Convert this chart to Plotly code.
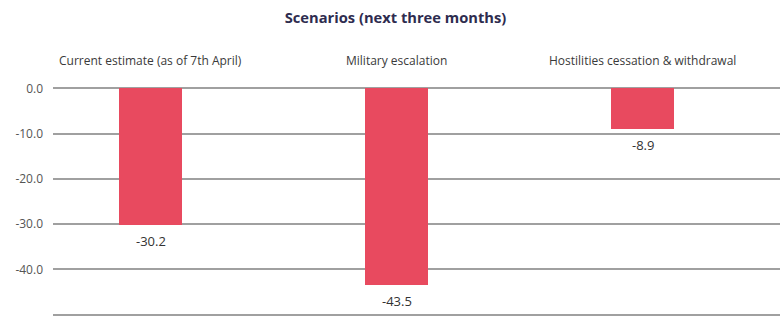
import plotly.graph_objects as go

categories = ["Current estimate (as of 7th April)", "Military escalation", "Hostilities cessation & withdrawal"]
values = [-30.2, -43.5, -8.9]
tick_vals = [0, -10, -20, -30, -40, -50]
tick_text = ["0.0", "-10.0", "-20.0", "-30.0", "-40.0", "-50.0"]
title = "Scenarios (next three months)"

FONT = "Open Sans, Noto Sans, sans-serif"

fig = go.Figure()
fig.add_trace(go.Bar(
    x=categories, y=values,
    marker=dict(color="#e84a5f", line=dict(width=0)),
    width=0.256,
    cliponaxis=False,
    hoverinfo="skip",
))

for c, v in zip(categories, values):
    fig.add_annotation(x=c, y=v, xref="x", yref="y", yanchor="top", yshift=-5,
                       text=f"{v:.1f}", showarrow=False,
                       font=dict(family=FONT, size=13, color="#333333"))
    fig.add_annotation(x=c, y=1, xref="x", yref="paper", yanchor="bottom", yshift=16,
                       text=c, showarrow=False,
                       font=dict(family=FONT, size=12, color="#3a3a3a"))

fig.update_layout(
    width=780, height=319,
    margin=dict(l=53, r=0, t=87, b=3),
    paper_bgcolor="white", plot_bgcolor="white",
    showlegend=False,
    bargap=0,
    title=dict(text=f"<b>{title}</b>", x=395.5 / 780, xanchor="center",
               y=1 - 18 / 319, yanchor="middle",
               font=dict(family=FONT, size=14.7, color="#2e2c4f")),
    xaxis=dict(range=[-0.398, 2.557], showticklabels=False, showgrid=False,
               zeroline=False, showline=False, fixedrange=True),
    yaxis=dict(range=[-50.3, 0.3], tickvals=tick_vals, ticktext=tick_text,
               showgrid=True, gridcolor="#a0a0a0", gridwidth=1.5,
               zeroline=False, showline=False, ticks="", fixedrange=True,
               ticklabelstandoff=9,
               tickfont=dict(family=FONT, size=12, color="#555555")),
)

fig.write_html("out.html", config={"displayModeBar": False},
               post_script="document.body.style.margin='0';document.body.style.overflow='hidden';")
